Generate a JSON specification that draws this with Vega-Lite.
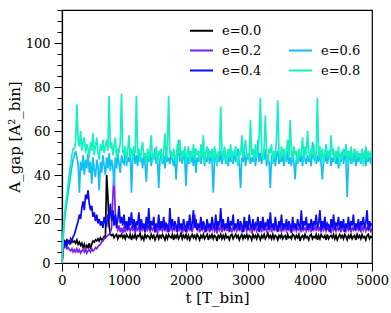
{
"$schema": "https://vega.github.io/schema/vega-lite/v6.json",
"width": 310, "height": 253,
"autosize": {"type": "none"},
"padding": {"left": 62, "top": 10, "right": 19, "bottom": 50},
"config": {
  "view": {"stroke": "#000000", "strokeWidth": 1.2},
  "font": "DejaVu Serif",
  "axis": {"labelFont": "DejaVu Serif", "labelFontSize": 13, "labelColor": "#000000", "tickColor": "#000000", "domainColor": "#000000", "domainWidth": 1.2, "tickWidth": 1, "titleFont": "DejaVu Serif", "titleFontSize": 15, "titleFontWeight": "normal", "titleColor": "#000000", "grid": false},
  "legend": {"labelFont": "DejaVu Serif", "labelFontSize": 13, "labelColor": "#000000"}
},
"datasets": {
"e00": [{"t":0,"v":0},{"t":20,"v":9},{"t":40,"v":10},{"t":60,"v":9},{"t":80,"v":10.5},{"t":100,"v":9.5},{"t":120,"v":10},{"t":140,"v":9},{"t":160,"v":10.5},{"t":180,"v":9.5},
{"t":200,"v":10},{"t":220,"v":9},{"t":240,"v":10.5},{"t":260,"v":8.5},{"t":280,"v":9.5},{"t":300,"v":8},{"t":320,"v":9},{"t":340,"v":7},{"t":360,"v":8.5},{"t":380,"v":6.5},
{"t":400,"v":8},{"t":420,"v":7},{"t":440,"v":9},{"t":460,"v":6.5},{"t":480,"v":8.5},{"t":500,"v":10},{"t":520,"v":9.5},{"t":540,"v":10.5},{"t":560,"v":10},{"t":580,"v":11},
{"t":600,"v":10},{"t":620,"v":11.5},{"t":640,"v":10.5},{"t":660,"v":11},{"t":680,"v":12},{"t":700,"v":11.5},{"t":720,"v":40},{"t":740,"v":30},{"t":760,"v":17},{"t":780,"v":13},
{"t":800,"v":12.5},{"t":820,"v":13},{"t":840,"v":11.5},{"t":860,"v":12.5},{"t":880,"v":13},{"t":900,"v":11},{"t":920,"v":12.5},{"t":940,"v":12},{"t":960,"v":13},{"t":980,"v":11.5},
{"t":1000,"v":12.5},{"t":1020,"v":11},{"t":1040,"v":13},{"t":1060,"v":12},{"t":1080,"v":11.5},{"t":1100,"v":13},{"t":1120,"v":10.5},{"t":1140,"v":12.5},{"t":1160,"v":11.5},{"t":1180,"v":13},
{"t":1200,"v":11},{"t":1220,"v":12.5},{"t":1240,"v":12},{"t":1260,"v":13.5},{"t":1280,"v":11},{"t":1300,"v":12},{"t":1320,"v":10.5},{"t":1340,"v":13},{"t":1360,"v":11.5},{"t":1380,"v":12.5},
{"t":1400,"v":12},{"t":1420,"v":11},{"t":1440,"v":13},{"t":1460,"v":11.5},{"t":1480,"v":12.5},{"t":1500,"v":10.5},{"t":1520,"v":12},{"t":1540,"v":13},{"t":1560,"v":11},{"t":1580,"v":12.5},
{"t":1600,"v":11.5},{"t":1620,"v":13},{"t":1640,"v":12},{"t":1660,"v":10.5},{"t":1680,"v":12.5},{"t":1700,"v":11},{"t":1720,"v":13},{"t":1740,"v":12},{"t":1760,"v":11.5},{"t":1780,"v":13},
{"t":1800,"v":10.5},{"t":1820,"v":12.5},{"t":1840,"v":11.5},{"t":1860,"v":13},{"t":1880,"v":11},{"t":1900,"v":12},{"t":1920,"v":13.5},{"t":1940,"v":11},{"t":1960,"v":12.5},{"t":1980,"v":11.5},
{"t":2000,"v":13},{"t":2020,"v":11},{"t":2040,"v":12.5},{"t":2060,"v":10.5},{"t":2080,"v":12},{"t":2100,"v":13},{"t":2120,"v":11.5},{"t":2140,"v":12.5},{"t":2160,"v":11},{"t":2180,"v":13},
{"t":2200,"v":12},{"t":2220,"v":10.5},{"t":2240,"v":12.5},{"t":2260,"v":11.5},{"t":2280,"v":13},{"t":2300,"v":11},{"t":2320,"v":12},{"t":2340,"v":13},{"t":2360,"v":10.5},{"t":2380,"v":12.5},
{"t":2400,"v":11.5},{"t":2420,"v":13},{"t":2440,"v":11},{"t":2460,"v":12.5},{"t":2480,"v":12},{"t":2500,"v":10},{"t":2520,"v":12.5},{"t":2540,"v":11.5},{"t":2560,"v":13},{"t":2580,"v":11},
{"t":2600,"v":12.5},{"t":2620,"v":11},{"t":2640,"v":13},{"t":2660,"v":11.5},{"t":2680,"v":12},{"t":2700,"v":10.5},{"t":2720,"v":12.5},{"t":2740,"v":13},{"t":2760,"v":11},{"t":2780,"v":12},
{"t":2800,"v":13},{"t":2820,"v":11.5},{"t":2840,"v":12.5},{"t":2860,"v":10.5},{"t":2880,"v":12},{"t":2900,"v":13},{"t":2920,"v":11},{"t":2940,"v":12.5},{"t":2960,"v":11.5},{"t":2980,"v":13},
{"t":3000,"v":11},{"t":3020,"v":12.5},{"t":3040,"v":12},{"t":3060,"v":10.5},{"t":3080,"v":13},{"t":3100,"v":11.5},{"t":3120,"v":12.5},{"t":3140,"v":11},{"t":3160,"v":13},{"t":3180,"v":12},
{"t":3200,"v":10.5},{"t":3220,"v":12.5},{"t":3240,"v":11.5},{"t":3260,"v":13},{"t":3280,"v":11},{"t":3300,"v":12},{"t":3320,"v":13.5},{"t":3340,"v":11.5},{"t":3360,"v":12.5},{"t":3380,"v":11},
{"t":3400,"v":13},{"t":3420,"v":11},{"t":3440,"v":12.5},{"t":3460,"v":12},{"t":3480,"v":10.5},{"t":3500,"v":12.5},{"t":3520,"v":11.5},{"t":3540,"v":13},{"t":3560,"v":11},{"t":3580,"v":12},
{"t":3600,"v":12.5},{"t":3620,"v":10.5},{"t":3640,"v":13},{"t":3660,"v":11.5},{"t":3680,"v":12},{"t":3700,"v":11},{"t":3720,"v":13},{"t":3740,"v":12.5},{"t":3760,"v":11},{"t":3780,"v":12.5},
{"t":3800,"v":11.5},{"t":3820,"v":13},{"t":3840,"v":10},{"t":3860,"v":12},{"t":3880,"v":12.5},{"t":3900,"v":11},{"t":3920,"v":13},{"t":3940,"v":11.5},{"t":3960,"v":12},{"t":3980,"v":10.5},
{"t":4000,"v":12.5},{"t":4020,"v":13},{"t":4040,"v":11},{"t":4060,"v":12},{"t":4080,"v":11.5},{"t":4100,"v":13},{"t":4120,"v":10.5},{"t":4140,"v":12.5},{"t":4160,"v":11},{"t":4180,"v":13},
{"t":4200,"v":12},{"t":4220,"v":11.5},{"t":4240,"v":12.5},{"t":4260,"v":10.5},{"t":4280,"v":13},{"t":4300,"v":11},{"t":4320,"v":12},{"t":4340,"v":12.5},{"t":4360,"v":11.5},{"t":4380,"v":13},
{"t":4400,"v":11},{"t":4420,"v":12.5},{"t":4440,"v":10.5},{"t":4460,"v":12},{"t":4480,"v":13},{"t":4500,"v":11.5},{"t":4520,"v":12.5},{"t":4540,"v":11},{"t":4560,"v":13},{"t":4580,"v":12},
{"t":4600,"v":10.5},{"t":4620,"v":12.5},{"t":4640,"v":11.5},{"t":4660,"v":13},{"t":4680,"v":11},{"t":4700,"v":12},{"t":4720,"v":12.5},{"t":4740,"v":10.5},{"t":4760,"v":13},{"t":4780,"v":11.5},
{"t":4800,"v":12.5},{"t":4820,"v":11},{"t":4840,"v":13},{"t":4860,"v":11.5},{"t":4880,"v":12},{"t":4900,"v":10.5},{"t":4920,"v":12.5},{"t":4940,"v":13},{"t":4960,"v":11},{"t":4980,"v":12},{"t":5000,"v":11.5}],
"e02": [{"t":0,"v":0},{"t":20,"v":8},{"t":40,"v":7},{"t":60,"v":8},{"t":80,"v":6.5},{"t":100,"v":7},{"t":120,"v":6},{"t":140,"v":5.5},{"t":160,"v":6.5},{"t":180,"v":5},
{"t":200,"v":6},{"t":220,"v":5},{"t":240,"v":6.5},{"t":260,"v":5},{"t":280,"v":6},{"t":300,"v":4.5},{"t":320,"v":5.5},{"t":340,"v":6},{"t":360,"v":5},{"t":380,"v":6.5},
{"t":400,"v":4.5},{"t":420,"v":5.5},{"t":440,"v":6},{"t":460,"v":5},{"t":480,"v":6.5},{"t":500,"v":5.5},{"t":520,"v":6},{"t":540,"v":7},{"t":560,"v":6.5},{"t":580,"v":7.5},
{"t":600,"v":8},{"t":620,"v":8.5},{"t":640,"v":9.5},{"t":660,"v":10},{"t":680,"v":11},{"t":700,"v":11.5},{"t":720,"v":12},{"t":740,"v":12.5},{"t":760,"v":13},{"t":780,"v":14},
{"t":800,"v":16},{"t":820,"v":30},{"t":840,"v":41},{"t":860,"v":22},{"t":880,"v":17},{"t":900,"v":15},{"t":920,"v":17},{"t":940,"v":14},{"t":960,"v":16},{"t":980,"v":13.5},
{"t":1000,"v":16.5},{"t":1020,"v":14},{"t":1040,"v":16},{"t":1060,"v":15},{"t":1080,"v":17},{"t":1100,"v":14.5},{"t":1120,"v":16},{"t":1140,"v":15},{"t":1160,"v":16.5},{"t":1180,"v":13.5},
{"t":1200,"v":16},{"t":1220,"v":15},{"t":1240,"v":17},{"t":1260,"v":14},{"t":1280,"v":16},{"t":1300,"v":15},{"t":1320,"v":16.5},{"t":1340,"v":14},{"t":1360,"v":16},{"t":1380,"v":15},
{"t":1400,"v":17},{"t":1420,"v":14.5},{"t":1440,"v":16},{"t":1460,"v":15},{"t":1480,"v":16.5},{"t":1500,"v":14},{"t":1520,"v":16},{"t":1540,"v":13.5},{"t":1560,"v":17},{"t":1580,"v":15},
{"t":1600,"v":16},{"t":1620,"v":14.5},{"t":1640,"v":16.5},{"t":1660,"v":15},{"t":1680,"v":17},{"t":1700,"v":14},{"t":1720,"v":16},{"t":1740,"v":15},{"t":1760,"v":16.5},{"t":1780,"v":14.5},
{"t":1800,"v":16},{"t":1820,"v":15},{"t":1840,"v":17},{"t":1860,"v":14},{"t":1880,"v":16},{"t":1900,"v":15},{"t":1920,"v":16.5},{"t":1940,"v":13.5},{"t":1960,"v":16},{"t":1980,"v":15},
{"t":2000,"v":17},{"t":2020,"v":14.5},{"t":2040,"v":16},{"t":2060,"v":15},{"t":2080,"v":16.5},{"t":2100,"v":14},{"t":2120,"v":17},{"t":2140,"v":22},{"t":2160,"v":16},{"t":2180,"v":15},
{"t":2200,"v":16.5},{"t":2220,"v":14},{"t":2240,"v":16},{"t":2260,"v":15},{"t":2280,"v":17},{"t":2300,"v":14.5},{"t":2320,"v":16},{"t":2340,"v":15},{"t":2360,"v":16.5},{"t":2380,"v":14},
{"t":2400,"v":16},{"t":2420,"v":15},{"t":2440,"v":17},{"t":2460,"v":14.5},{"t":2480,"v":16},{"t":2500,"v":13.5},{"t":2520,"v":16.5},{"t":2540,"v":15},{"t":2560,"v":17},{"t":2580,"v":14},
{"t":2600,"v":16},{"t":2620,"v":15},{"t":2640,"v":16.5},{"t":2660,"v":14.5},{"t":2680,"v":17},{"t":2700,"v":15},{"t":2720,"v":16},{"t":2740,"v":14},{"t":2760,"v":16.5},{"t":2780,"v":15},
{"t":2800,"v":17},{"t":2820,"v":14.5},{"t":2840,"v":16},{"t":2860,"v":15},{"t":2880,"v":16.5},{"t":2900,"v":14},{"t":2920,"v":16},{"t":2940,"v":15},{"t":2960,"v":17},{"t":2980,"v":14.5},
{"t":3000,"v":16},{"t":3020,"v":15},{"t":3040,"v":16.5},{"t":3060,"v":13.5},{"t":3080,"v":16},{"t":3100,"v":15},{"t":3120,"v":17},{"t":3140,"v":14.5},{"t":3160,"v":16},{"t":3180,"v":15},
{"t":3200,"v":16.5},{"t":3220,"v":14},{"t":3240,"v":17},{"t":3260,"v":15},{"t":3280,"v":16},{"t":3300,"v":14.5},{"t":3320,"v":16.5},{"t":3340,"v":15},{"t":3360,"v":17},{"t":3380,"v":14},
{"t":3400,"v":16},{"t":3420,"v":15},{"t":3440,"v":16.5},{"t":3460,"v":14.5},{"t":3480,"v":17},{"t":3500,"v":15},{"t":3520,"v":16},{"t":3540,"v":14},{"t":3560,"v":16.5},{"t":3580,"v":15},
{"t":3600,"v":17},{"t":3620,"v":14.5},{"t":3640,"v":16},{"t":3660,"v":15},{"t":3680,"v":16.5},{"t":3700,"v":13.5},{"t":3720,"v":16},{"t":3740,"v":15},{"t":3760,"v":17},{"t":3780,"v":14.5},
{"t":3800,"v":16},{"t":3820,"v":15},{"t":3840,"v":16.5},{"t":3860,"v":14},{"t":3880,"v":17},{"t":3900,"v":15},{"t":3920,"v":16},{"t":3940,"v":14.5},{"t":3960,"v":16.5},{"t":3980,"v":15},
{"t":4000,"v":17},{"t":4020,"v":14},{"t":4040,"v":16},{"t":4060,"v":15},{"t":4080,"v":16.5},{"t":4100,"v":14.5},{"t":4120,"v":17},{"t":4140,"v":15},{"t":4160,"v":16},{"t":4180,"v":14},
{"t":4200,"v":16.5},{"t":4220,"v":15},{"t":4240,"v":17},{"t":4260,"v":14.5},{"t":4280,"v":16},{"t":4300,"v":15},{"t":4320,"v":16.5},{"t":4340,"v":13.5},{"t":4360,"v":16},{"t":4380,"v":15},
{"t":4400,"v":17},{"t":4420,"v":14.5},{"t":4440,"v":16},{"t":4460,"v":15},{"t":4480,"v":16.5},{"t":4500,"v":14},{"t":4520,"v":17},{"t":4540,"v":15},{"t":4560,"v":16},{"t":4580,"v":14.5},
{"t":4600,"v":16.5},{"t":4620,"v":15},{"t":4640,"v":17},{"t":4660,"v":14},{"t":4680,"v":16},{"t":4700,"v":15},{"t":4720,"v":16.5},{"t":4740,"v":14.5},{"t":4760,"v":17},{"t":4780,"v":15},
{"t":4800,"v":16},{"t":4820,"v":14},{"t":4840,"v":16.5},{"t":4860,"v":15},{"t":4880,"v":17},{"t":4900,"v":14.5},{"t":4920,"v":16},{"t":4940,"v":15},{"t":4960,"v":16.5},{"t":4980,"v":14},{"t":5000,"v":16}],
"e04": [{"t":0,"v":0},{"t":20,"v":9},{"t":40,"v":8},{"t":60,"v":9.5},{"t":80,"v":8},{"t":100,"v":10},{"t":120,"v":9},{"t":140,"v":11},{"t":160,"v":10},{"t":180,"v":12},
{"t":200,"v":13},{"t":220,"v":15},{"t":240,"v":17},{"t":260,"v":19},{"t":280,"v":22},{"t":300,"v":20},{"t":320,"v":25},{"t":340,"v":28},{"t":360,"v":24},{"t":380,"v":31},
{"t":400,"v":29},{"t":420,"v":33},{"t":440,"v":27},{"t":460,"v":24},{"t":480,"v":26},{"t":500,"v":21},{"t":520,"v":23},{"t":540,"v":19},{"t":560,"v":22},{"t":580,"v":18},
{"t":600,"v":20},{"t":620,"v":17},{"t":640,"v":19},{"t":660,"v":16},{"t":680,"v":21},{"t":700,"v":18},{"t":720,"v":17},{"t":740,"v":22},{"t":760,"v":20},{"t":780,"v":27},
{"t":800,"v":19},{"t":820,"v":24},{"t":840,"v":17},{"t":860,"v":22},{"t":880,"v":16},{"t":900,"v":20},{"t":920,"v":26},{"t":940,"v":18},{"t":960,"v":21},{"t":980,"v":17},
{"t":1000,"v":22},{"t":1020,"v":16},{"t":1040,"v":19},{"t":1060,"v":15},{"t":1080,"v":21},{"t":1100,"v":17},{"t":1120,"v":23},{"t":1140,"v":16},{"t":1160,"v":20},{"t":1180,"v":15},
{"t":1200,"v":19},{"t":1220,"v":17},{"t":1240,"v":23},{"t":1260,"v":15},{"t":1280,"v":20},{"t":1300,"v":16},{"t":1320,"v":18},{"t":1340,"v":14},{"t":1360,"v":21},{"t":1380,"v":16},
{"t":1400,"v":25},{"t":1420,"v":15},{"t":1440,"v":19},{"t":1460,"v":17},{"t":1480,"v":21},{"t":1500,"v":14},{"t":1520,"v":18},{"t":1540,"v":16},{"t":1560,"v":22},{"t":1580,"v":15},
{"t":1600,"v":19},{"t":1620,"v":16},{"t":1640,"v":21},{"t":1660,"v":15},{"t":1680,"v":18},{"t":1700,"v":17},{"t":1720,"v":14},{"t":1740,"v":25},{"t":1760,"v":16},{"t":1780,"v":20},
{"t":1800,"v":15},{"t":1820,"v":19},{"t":1840,"v":17},{"t":1860,"v":14},{"t":1880,"v":21},{"t":1900,"v":16},{"t":1920,"v":18},{"t":1940,"v":15},{"t":1960,"v":20},{"t":1980,"v":17},
{"t":2000,"v":14},{"t":2020,"v":19},{"t":2040,"v":16},{"t":2060,"v":22},{"t":2080,"v":15},{"t":2100,"v":18},{"t":2120,"v":24},{"t":2140,"v":16},{"t":2160,"v":20},{"t":2180,"v":15},
{"t":2200,"v":18},{"t":2220,"v":16},{"t":2240,"v":21},{"t":2260,"v":15},{"t":2280,"v":19},{"t":2300,"v":17},{"t":2320,"v":14},{"t":2340,"v":20},{"t":2360,"v":16},{"t":2380,"v":18},
{"t":2400,"v":15},{"t":2420,"v":21},{"t":2440,"v":17},{"t":2460,"v":16},{"t":2480,"v":22},{"t":2500,"v":15},{"t":2520,"v":19},{"t":2540,"v":17},{"t":2560,"v":25},{"t":2580,"v":16},
{"t":2600,"v":20},{"t":2620,"v":15},{"t":2640,"v":18},{"t":2660,"v":16},{"t":2680,"v":21},{"t":2700,"v":14},{"t":2720,"v":19},{"t":2740,"v":17},{"t":2760,"v":22},{"t":2780,"v":15},
{"t":2800,"v":18},{"t":2820,"v":16},{"t":2840,"v":20},{"t":2860,"v":15},{"t":2880,"v":19},{"t":2900,"v":17},{"t":2920,"v":14},{"t":2940,"v":21},{"t":2960,"v":16},{"t":2980,"v":19},
{"t":3000,"v":15},{"t":3020,"v":22},{"t":3040,"v":17},{"t":3060,"v":16},{"t":3080,"v":20},{"t":3100,"v":15},{"t":3120,"v":18},{"t":3140,"v":17},{"t":3160,"v":21},{"t":3180,"v":14},
{"t":3200,"v":19},{"t":3220,"v":16},{"t":3240,"v":21},{"t":3260,"v":15},{"t":3280,"v":18},{"t":3300,"v":17},{"t":3320,"v":20},{"t":3340,"v":15},{"t":3360,"v":23},{"t":3380,"v":16},
{"t":3400,"v":18},{"t":3420,"v":15},{"t":3440,"v":21},{"t":3460,"v":17},{"t":3480,"v":14},{"t":3500,"v":19},{"t":3520,"v":16},{"t":3540,"v":22},{"t":3560,"v":15},{"t":3580,"v":18},
{"t":3600,"v":16},{"t":3620,"v":20},{"t":3640,"v":15},{"t":3660,"v":19},{"t":3680,"v":17},{"t":3700,"v":14},{"t":3720,"v":21},{"t":3740,"v":16},{"t":3760,"v":18},{"t":3780,"v":15},
{"t":3800,"v":20},{"t":3820,"v":17},{"t":3840,"v":16},{"t":3860,"v":24},{"t":3880,"v":15},{"t":3900,"v":19},{"t":3920,"v":17},{"t":3940,"v":21},{"t":3960,"v":15},{"t":3980,"v":18},
{"t":4000,"v":16},{"t":4020,"v":20},{"t":4040,"v":15},{"t":4060,"v":19},{"t":4080,"v":17},{"t":4100,"v":22},{"t":4120,"v":16},{"t":4140,"v":18},{"t":4160,"v":24},{"t":4180,"v":15},
{"t":4200,"v":19},{"t":4220,"v":16},{"t":4240,"v":21},{"t":4260,"v":15},{"t":4280,"v":18},{"t":4300,"v":17},{"t":4320,"v":14},{"t":4340,"v":20},{"t":4360,"v":16},{"t":4380,"v":22},
{"t":4400,"v":15},{"t":4420,"v":18},{"t":4440,"v":17},{"t":4460,"v":21},{"t":4480,"v":15},{"t":4500,"v":19},{"t":4520,"v":16},{"t":4540,"v":20},{"t":4560,"v":14},{"t":4580,"v":18},
{"t":4600,"v":16},{"t":4620,"v":21},{"t":4640,"v":15},{"t":4660,"v":19},{"t":4680,"v":17},{"t":4700,"v":22},{"t":4720,"v":15},{"t":4740,"v":18},{"t":4760,"v":16},{"t":4780,"v":20},
{"t":4800,"v":15},{"t":4820,"v":19},{"t":4840,"v":17},{"t":4860,"v":21},{"t":4880,"v":16},{"t":4900,"v":18},{"t":4920,"v":24},{"t":4940,"v":15},{"t":4960,"v":19},{"t":4980,"v":17},{"t":5000,"v":18}],
"e06": [{"t":0,"v":0},{"t":20,"v":12},{"t":40,"v":19},{"t":60,"v":24},{"t":80,"v":28},{"t":100,"v":32},{"t":120,"v":36},{"t":140,"v":40},{"t":160,"v":44},{"t":180,"v":47},
{"t":200,"v":49},{"t":220,"v":51},{"t":240,"v":48},{"t":260,"v":45},{"t":280,"v":32},{"t":300,"v":46},{"t":320,"v":42},{"t":340,"v":49},{"t":360,"v":40},{"t":380,"v":47},
{"t":400,"v":43},{"t":420,"v":50},{"t":440,"v":41},{"t":460,"v":46},{"t":480,"v":36},{"t":500,"v":48},{"t":520,"v":42},{"t":540,"v":39},{"t":560,"v":47},{"t":580,"v":44},
{"t":600,"v":33},{"t":620,"v":46},{"t":640,"v":41},{"t":660,"v":49},{"t":680,"v":44},{"t":700,"v":40},{"t":720,"v":48},{"t":740,"v":43},{"t":760,"v":50},{"t":780,"v":42},
{"t":800,"v":47},{"t":820,"v":44},{"t":840,"v":35},{"t":860,"v":48},{"t":880,"v":43},{"t":900,"v":50},{"t":920,"v":45},{"t":940,"v":41},{"t":960,"v":49},{"t":980,"v":46},
{"t":1000,"v":45},{"t":1020,"v":51},{"t":1040,"v":44},{"t":1060,"v":48},{"t":1080,"v":46},{"t":1100,"v":52},{"t":1120,"v":32},{"t":1140,"v":47},{"t":1160,"v":50},{"t":1180,"v":45},
{"t":1200,"v":49},{"t":1220,"v":44},{"t":1240,"v":51},{"t":1260,"v":46},{"t":1280,"v":48},{"t":1300,"v":43},{"t":1320,"v":50},{"t":1340,"v":45},{"t":1360,"v":37},{"t":1380,"v":49},
{"t":1400,"v":46},{"t":1420,"v":51},{"t":1440,"v":44},{"t":1460,"v":49},{"t":1480,"v":47},{"t":1500,"v":52},{"t":1520,"v":45},{"t":1540,"v":48},{"t":1560,"v":34},{"t":1580,"v":47},
{"t":1600,"v":50},{"t":1620,"v":45},{"t":1640,"v":49},{"t":1660,"v":43},{"t":1680,"v":51},{"t":1700,"v":46},{"t":1720,"v":48},{"t":1740,"v":45},{"t":1760,"v":50},{"t":1780,"v":47},
{"t":1800,"v":44},{"t":1820,"v":49},{"t":1840,"v":38},{"t":1860,"v":48},{"t":1880,"v":56},{"t":1900,"v":46},{"t":1920,"v":50},{"t":1940,"v":45},{"t":1960,"v":51},{"t":1980,"v":47},
{"t":2000,"v":35},{"t":2020,"v":48},{"t":2040,"v":45},{"t":2060,"v":51},{"t":2080,"v":46},{"t":2100,"v":49},{"t":2120,"v":44},{"t":2140,"v":52},{"t":2160,"v":41},{"t":2180,"v":48},
{"t":2200,"v":46},{"t":2220,"v":50},{"t":2240,"v":45},{"t":2260,"v":49},{"t":2280,"v":51},{"t":2300,"v":44},{"t":2320,"v":48},{"t":2340,"v":46},{"t":2360,"v":52},{"t":2380,"v":45},
{"t":2400,"v":49},{"t":2420,"v":46},{"t":2440,"v":32},{"t":2460,"v":47},{"t":2480,"v":50},{"t":2500,"v":44},{"t":2520,"v":49},{"t":2540,"v":46},{"t":2560,"v":51},{"t":2580,"v":45},
{"t":2600,"v":48},{"t":2620,"v":51},{"t":2640,"v":45},{"t":2660,"v":49},{"t":2680,"v":44},{"t":2700,"v":50},{"t":2720,"v":46},{"t":2740,"v":48},{"t":2760,"v":45},{"t":2780,"v":51},
{"t":2800,"v":46},{"t":2820,"v":49},{"t":2840,"v":52},{"t":2860,"v":45},{"t":2880,"v":34},{"t":2900,"v":48},{"t":2920,"v":46},{"t":2940,"v":51},{"t":2960,"v":44},{"t":2980,"v":49},
{"t":3000,"v":47},{"t":3020,"v":50},{"t":3040,"v":45},{"t":3060,"v":48},{"t":3080,"v":46},{"t":3100,"v":51},{"t":3120,"v":44},{"t":3140,"v":49},{"t":3160,"v":56},{"t":3180,"v":46},
{"t":3200,"v":50},{"t":3220,"v":45},{"t":3240,"v":49},{"t":3260,"v":47},{"t":3280,"v":52},{"t":3300,"v":44},{"t":3320,"v":48},{"t":3340,"v":46},{"t":3360,"v":34},{"t":3380,"v":49},
{"t":3400,"v":46},{"t":3420,"v":50},{"t":3440,"v":44},{"t":3460,"v":49},{"t":3480,"v":51},{"t":3500,"v":45},{"t":3520,"v":48},{"t":3540,"v":46},{"t":3560,"v":50},{"t":3580,"v":44},
{"t":3600,"v":49},{"t":3620,"v":46},{"t":3640,"v":51},{"t":3660,"v":45},{"t":3680,"v":48},{"t":3700,"v":44},{"t":3720,"v":50},{"t":3740,"v":46},{"t":3760,"v":38},{"t":3780,"v":48},
{"t":3800,"v":45},{"t":3820,"v":50},{"t":3840,"v":46},{"t":3860,"v":49},{"t":3880,"v":44},{"t":3900,"v":51},{"t":3920,"v":47},{"t":3940,"v":45},{"t":3960,"v":49},{"t":3980,"v":46},
{"t":4000,"v":48},{"t":4020,"v":44},{"t":4040,"v":55},{"t":4060,"v":47},{"t":4080,"v":50},{"t":4100,"v":45},{"t":4120,"v":49},{"t":4140,"v":46},{"t":4160,"v":51},{"t":4180,"v":45},
{"t":4200,"v":38},{"t":4220,"v":48},{"t":4240,"v":46},{"t":4260,"v":50},{"t":4280,"v":45},{"t":4300,"v":49},{"t":4320,"v":51},{"t":4340,"v":44},{"t":4360,"v":48},{"t":4380,"v":46},
{"t":4400,"v":50},{"t":4420,"v":45},{"t":4440,"v":49},{"t":4460,"v":43},{"t":4480,"v":48},{"t":4500,"v":46},{"t":4520,"v":51},{"t":4540,"v":45},{"t":4560,"v":49},{"t":4580,"v":47},
{"t":4600,"v":30},{"t":4620,"v":47},{"t":4640,"v":50},{"t":4660,"v":45},{"t":4680,"v":49},{"t":4700,"v":46},{"t":4720,"v":51},{"t":4740,"v":44},{"t":4760,"v":48},{"t":4780,"v":46},
{"t":4800,"v":50},{"t":4820,"v":45},{"t":4840,"v":49},{"t":4860,"v":47},{"t":4880,"v":51},{"t":4900,"v":44},{"t":4920,"v":48},{"t":4940,"v":46},{"t":4960,"v":50},{"t":4980,"v":45},{"t":5000,"v":48}],
"e08": [{"t":0,"v":0},{"t":20,"v":14},{"t":40,"v":22},{"t":60,"v":27},{"t":80,"v":31},{"t":100,"v":36},{"t":120,"v":41},{"t":140,"v":45},{"t":160,"v":49},{"t":180,"v":52},
{"t":200,"v":52},{"t":220,"v":55},{"t":240,"v":72},{"t":260,"v":56},{"t":280,"v":53},{"t":300,"v":60},{"t":320,"v":51},{"t":340,"v":55},{"t":360,"v":57},{"t":380,"v":50},
{"t":400,"v":54},{"t":420,"v":52},{"t":440,"v":48},{"t":460,"v":55},{"t":480,"v":51},{"t":500,"v":59},{"t":520,"v":49},{"t":540,"v":53},{"t":560,"v":57},{"t":580,"v":50},
{"t":600,"v":47},{"t":620,"v":54},{"t":640,"v":51},{"t":660,"v":56},{"t":680,"v":50},{"t":700,"v":53},{"t":720,"v":56},{"t":740,"v":51},{"t":760,"v":76},{"t":780,"v":52},
{"t":800,"v":55},{"t":820,"v":49},{"t":840,"v":53},{"t":860,"v":57},{"t":880,"v":48},{"t":900,"v":52},{"t":920,"v":50},{"t":940,"v":55},{"t":960,"v":77},{"t":980,"v":51},
{"t":1000,"v":49},{"t":1020,"v":53},{"t":1040,"v":46},{"t":1060,"v":51},{"t":1080,"v":58},{"t":1100,"v":48},{"t":1120,"v":52},{"t":1140,"v":47},{"t":1160,"v":53},{"t":1180,"v":50},
{"t":1200,"v":76},{"t":1220,"v":49},{"t":1240,"v":52},{"t":1260,"v":46},{"t":1280,"v":51},{"t":1300,"v":55},{"t":1320,"v":48},{"t":1340,"v":50},{"t":1360,"v":45},{"t":1380,"v":52},
{"t":1400,"v":47},{"t":1420,"v":51},{"t":1440,"v":58},{"t":1460,"v":46},{"t":1480,"v":50},{"t":1500,"v":48},{"t":1520,"v":53},{"t":1540,"v":45},{"t":1560,"v":51},{"t":1580,"v":49},
{"t":1600,"v":52},{"t":1620,"v":46},{"t":1640,"v":50},{"t":1660,"v":59},{"t":1680,"v":47},{"t":1700,"v":53},{"t":1720,"v":76},{"t":1740,"v":49},{"t":1760,"v":51},{"t":1780,"v":47},
{"t":1800,"v":52},{"t":1820,"v":48},{"t":1840,"v":45},{"t":1860,"v":54},{"t":1880,"v":50},{"t":1900,"v":56},{"t":1920,"v":47},{"t":1940,"v":51},{"t":1960,"v":48},{"t":1980,"v":53},
{"t":2000,"v":46},{"t":2020,"v":50},{"t":2040,"v":53},{"t":2060,"v":45},{"t":2080,"v":51},{"t":2100,"v":48},{"t":2120,"v":54},{"t":2140,"v":47},{"t":2160,"v":52},{"t":2180,"v":49},
{"t":2200,"v":51},{"t":2220,"v":46},{"t":2240,"v":54},{"t":2260,"v":48},{"t":2280,"v":58},{"t":2300,"v":45},{"t":2320,"v":50},{"t":2340,"v":53},{"t":2360,"v":47},{"t":2380,"v":51},
{"t":2400,"v":48},{"t":2420,"v":52},{"t":2440,"v":46},{"t":2460,"v":53},{"t":2480,"v":50},{"t":2500,"v":44},{"t":2520,"v":51},{"t":2540,"v":49},{"t":2560,"v":71},{"t":2580,"v":50},
{"t":2600,"v":47},{"t":2620,"v":53},{"t":2640,"v":49},{"t":2660,"v":45},{"t":2680,"v":52},{"t":2700,"v":48},{"t":2720,"v":54},{"t":2740,"v":46},{"t":2760,"v":51},{"t":2780,"v":49},
{"t":2800,"v":53},{"t":2820,"v":47},{"t":2840,"v":44},{"t":2860,"v":51},{"t":2880,"v":49},{"t":2900,"v":58},{"t":2920,"v":48},{"t":2940,"v":52},{"t":2960,"v":56},{"t":2980,"v":48},
{"t":3000,"v":50},{"t":3020,"v":46},{"t":3040,"v":65},{"t":3060,"v":49},{"t":3080,"v":52},{"t":3100,"v":47},{"t":3120,"v":54},{"t":3140,"v":48},{"t":3160,"v":51},{"t":3180,"v":58},
{"t":3200,"v":75},{"t":3220,"v":50},{"t":3240,"v":47},{"t":3260,"v":53},{"t":3280,"v":67},{"t":3300,"v":49},{"t":3320,"v":46},{"t":3340,"v":52},{"t":3360,"v":50},{"t":3380,"v":54},
{"t":3400,"v":45},{"t":3420,"v":51},{"t":3440,"v":48},{"t":3460,"v":57},{"t":3480,"v":74},{"t":3500,"v":50},{"t":3520,"v":47},{"t":3540,"v":53},{"t":3560,"v":49},{"t":3580,"v":52},
{"t":3600,"v":46},{"t":3620,"v":51},{"t":3640,"v":56},{"t":3660,"v":48},{"t":3680,"v":65},{"t":3700,"v":50},{"t":3720,"v":47},{"t":3740,"v":53},{"t":3760,"v":49},{"t":3780,"v":51},
{"t":3800,"v":45},{"t":3820,"v":52},{"t":3840,"v":48},{"t":3860,"v":50},{"t":3880,"v":57},{"t":3900,"v":47},{"t":3920,"v":53},{"t":3940,"v":49},{"t":3960,"v":60},{"t":3980,"v":51},
{"t":4000,"v":47},{"t":4020,"v":52},{"t":4040,"v":49},{"t":4060,"v":54},{"t":4080,"v":46},{"t":4100,"v":50},{"t":4120,"v":75},{"t":4140,"v":48},{"t":4160,"v":53},{"t":4180,"v":47},
{"t":4200,"v":52},{"t":4220,"v":45},{"t":4240,"v":50},{"t":4260,"v":54},{"t":4280,"v":48},{"t":4300,"v":51},{"t":4320,"v":47},{"t":4340,"v":58},{"t":4360,"v":49},{"t":4380,"v":52},
{"t":4400,"v":46},{"t":4420,"v":51},{"t":4440,"v":48},{"t":4460,"v":53},{"t":4480,"v":44},{"t":4500,"v":50},{"t":4520,"v":47},{"t":4540,"v":52},{"t":4560,"v":49},{"t":4580,"v":54},
{"t":4600,"v":46},{"t":4620,"v":51},{"t":4640,"v":48},{"t":4660,"v":53},{"t":4680,"v":45},{"t":4700,"v":50},{"t":4720,"v":52},{"t":4740,"v":47},{"t":4760,"v":51},{"t":4780,"v":48},
{"t":4800,"v":50},{"t":4820,"v":46},{"t":4840,"v":52},{"t":4860,"v":44},{"t":4880,"v":49},{"t":4900,"v":53},{"t":4920,"v":47},{"t":4940,"v":51},{"t":4960,"v":48},{"t":4980,"v":50},{"t":5000,"v":48}]
},
"encoding": {
  "x": {"field": "t", "type": "quantitative", "scale": {"domain": [0, 5000], "nice": false},
    "axis": {"values": [0,250,500,750,1000,1250,1500,1750,2000,2250,2500,2750,3000,3250,3500,3750,4000,4250,4500,4750,5000],
      "labelExpr": "datum.value % 1000 === 0 ? datum.label : ''",
      "format": "d",
      "tickSize": {"condition": {"test": "datum.value % 1000 === 0", "value": 8}, "value": 4.5},
      "labelPadding": 3, "labelFlush": false, "labelOverlap": false,
      "title": "t [T_bin]", "titlePadding": 3}},
  "y": {"field": "v", "type": "quantitative", "scale": {"domain": [0, 115], "nice": false},
    "axis": {"values": [0,5,10,15,20,25,30,35,40,45,50,55,60,65,70,75,80,85,90,95,100,105,110,115],
      "labelExpr": "datum.value % 20 === 0 ? datum.label : ''",
      "tickSize": {"condition": {"test": "datum.value % 20 === 0", "value": 8}, "value": 5},
      "labelPadding": 4, "labelOverlap": false, "labelFlush": false,
      "title": "A_gap [A²_bin]", "titlePadding": 3}}
},
"layer": [
  {"data": {"name": "e00"}, "mark": {"type": "line", "strokeWidth": 1.7, "clip": true},
   "encoding": {"color": {"datum": "e=0.0", "type": "nominal",
     "scale": {"domain": ["e=0.0", "e=0.2", "e=0.4", " ", "e=0.6", "e=0.8"], "range": ["#000000", "#7b1ff5", "#0a0af5", "#ffffff", "#12bff5", "#14f0c0"]},
     "legend": {"orient": "none", "legendX": 127, "legendY": 8, "columns": 2, "title": null,
       "symbolType": "stroke", "symbolSize": 529, "symbolStrokeWidth": 2,
       "labelOffset": 8, "rowPadding": -2, "columnPadding": 23, "padding": 0}}}},
  {"data": {"name": "e02"}, "mark": {"type": "line", "strokeWidth": 1.7, "clip": true},
   "encoding": {"color": {"datum": "e=0.2", "type": "nominal"}}},
  {"data": {"name": "e04"}, "mark": {"type": "line", "strokeWidth": 1.7, "clip": true},
   "encoding": {"color": {"datum": "e=0.4", "type": "nominal"}}},
  {"data": {"name": "e06"}, "mark": {"type": "line", "strokeWidth": 1.7, "clip": true},
   "encoding": {"color": {"datum": "e=0.6", "type": "nominal"}}},
  {"data": {"name": "e08"}, "mark": {"type": "line", "strokeWidth": 1.7, "clip": true},
   "encoding": {"color": {"datum": "e=0.8", "type": "nominal"}}}
]
}
